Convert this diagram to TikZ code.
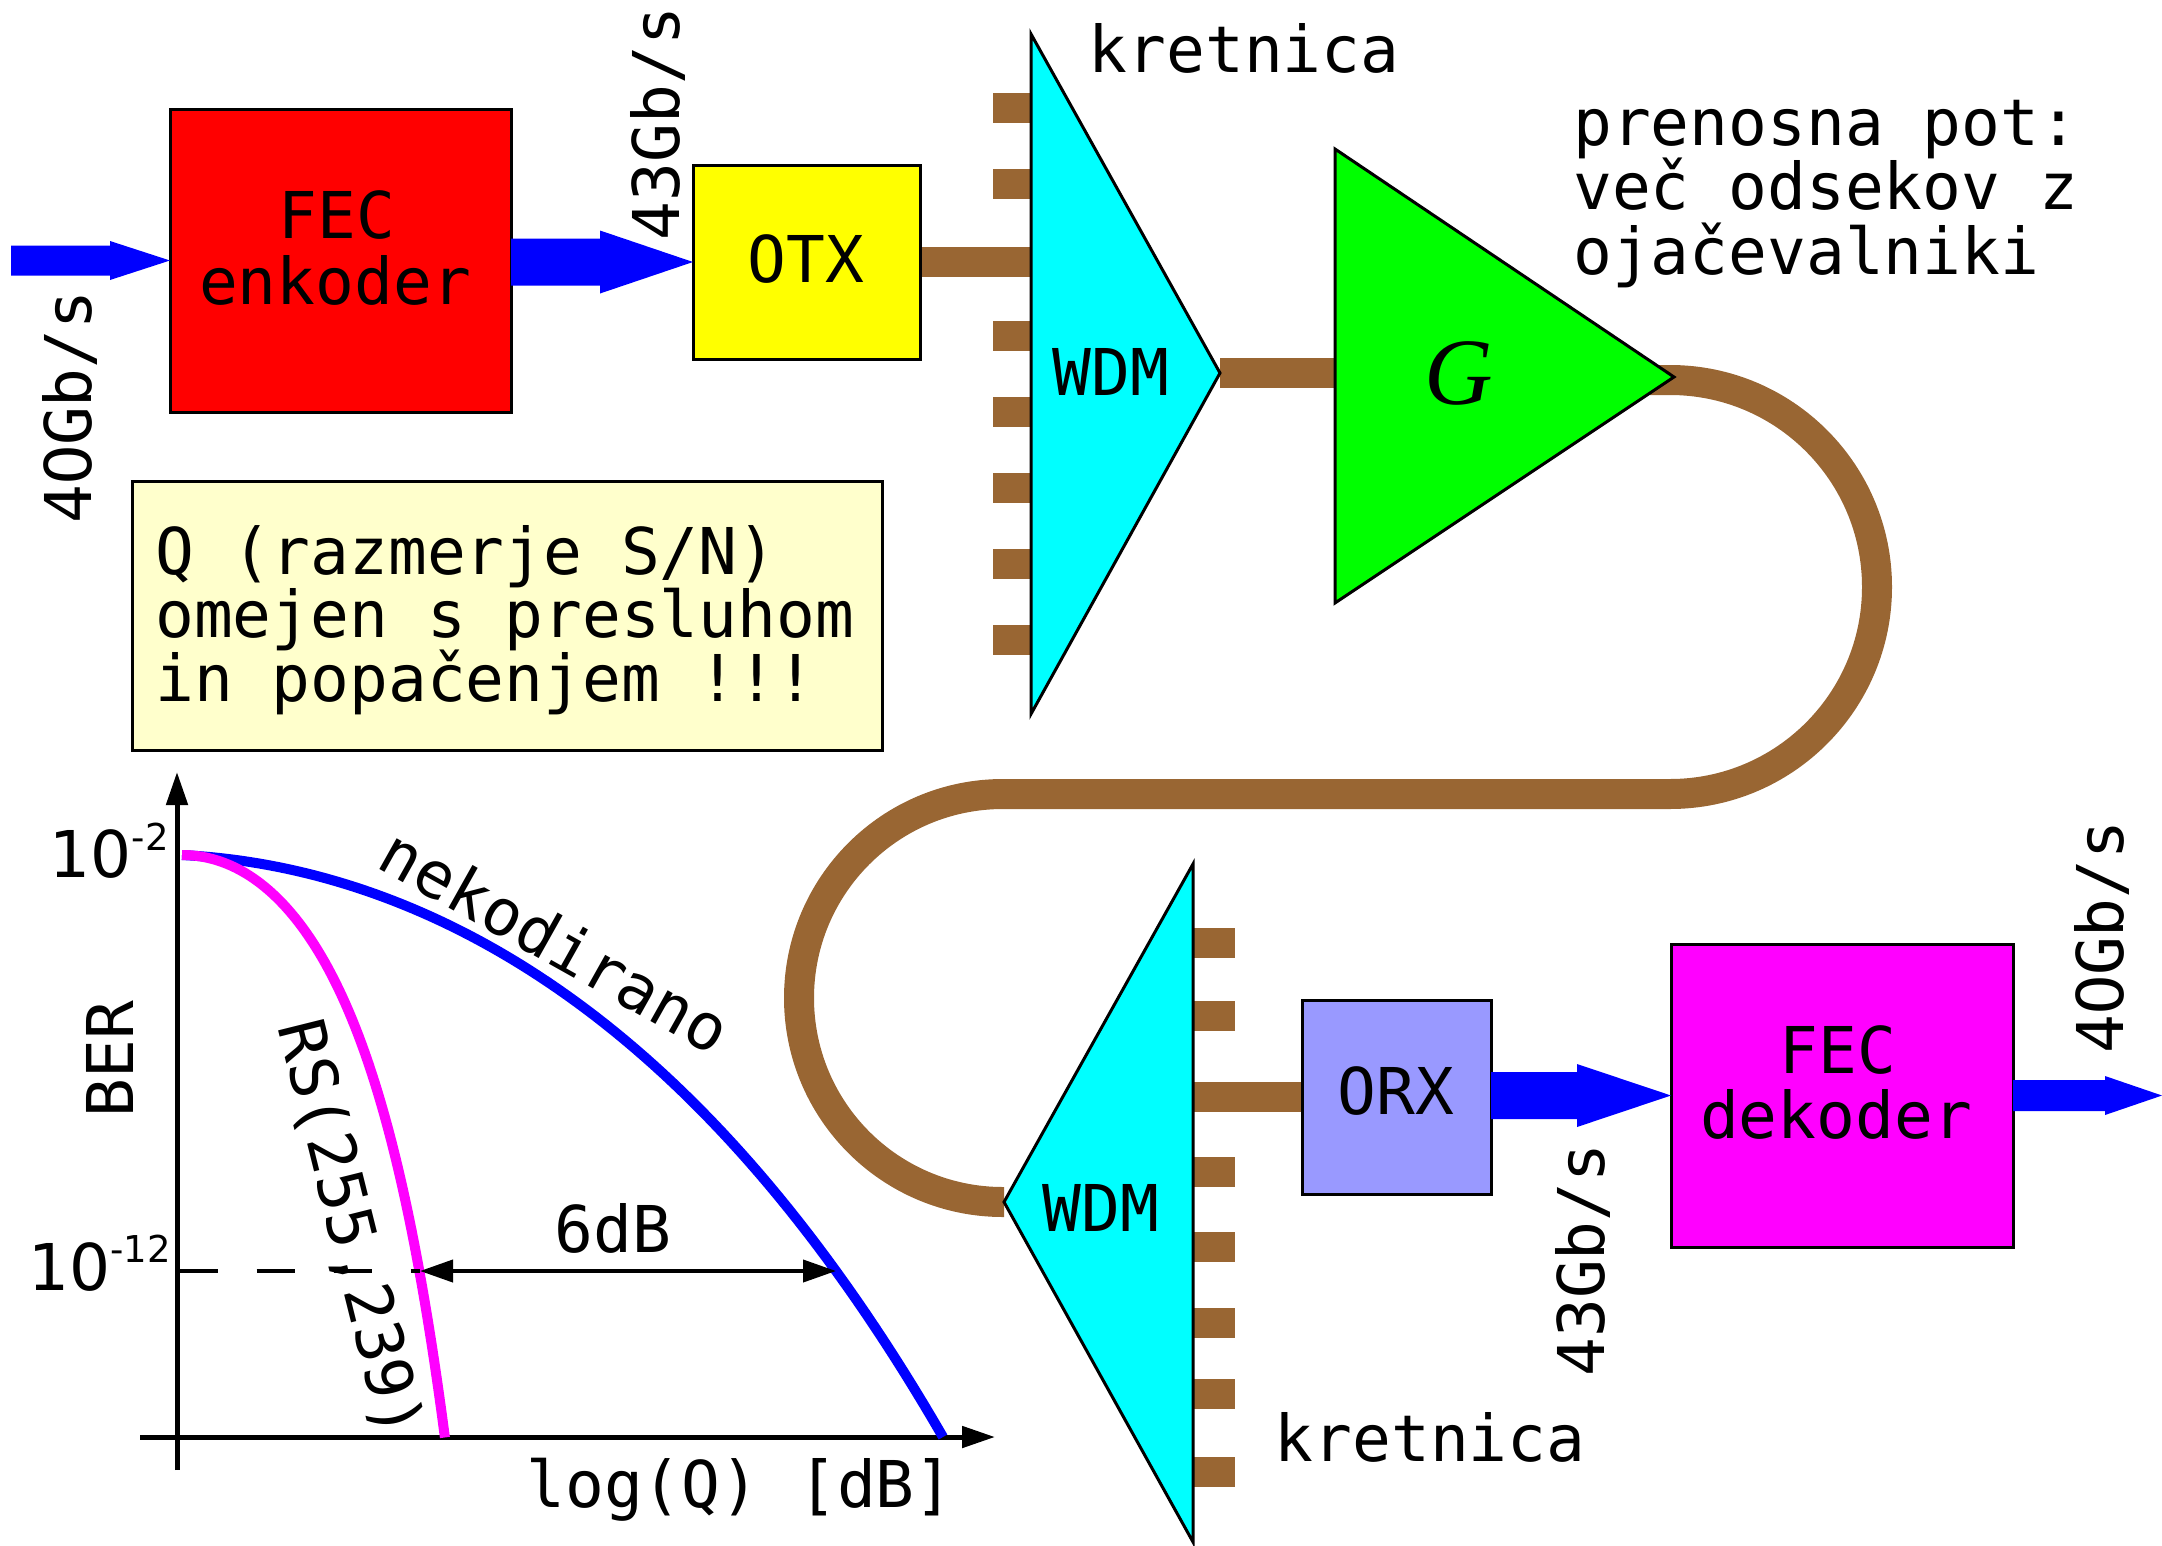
\documentclass[tikz,border=0pt]{standalone}
\usepackage{fontspec}
\usetikzlibrary{calc,arrows.meta}
\newfontfamily\monofont{DejaVu Sans Mono}
\newfontfamily\dvsans{DejaVu Sans}
\newfontfamily\timesfont{Liberation Serif}
\definecolor{fib}{RGB}{153,102,51}
\definecolor{qboxc}{RGB}{255,255,204}
\definecolor{orxc}{RGB}{153,153,255}
\definecolor{arrowblue}{RGB}{0,0,255}
\definecolor{pcyan}{RGB}{0,255,255}
\definecolor{pmagenta}{RGB}{255,0,255}
\definecolor{pyellow}{RGB}{255,255,0}
\definecolor{pgreen}{RGB}{0,255,0}
\definecolor{pred}{RGB}{255,0,0}
\definecolor{pblue}{RGB}{0,0,255}
\newcommand\zro{\makebox[0.602em]{\dvsans 0}}
\newcommand\blockarrow[5]{%
  \fill[arrowblue] let \p1=(#1),\p2=(#2) in
    (\x1,\y2+#3) -- (\x2-#5,\y2+#3) -- (\x2-#5,\y2+#4) -- (\x2,\y2) --
    (\x2-#5,\y2-#4) -- (\x2-#5,\y2-#3) -- (\x1,\y2-#3) -- cycle;}
\begin{document}
\begin{tikzpicture}[x=1pt,y=-1pt,
  box/.style={draw=black,line width=3pt,inner sep=0pt,outer sep=0pt},
  txt/.style={font=\monofont\fontsize{64.5}{66}\selectfont,inner sep=0pt,anchor=base},
  fiber/.style={draw=fib,line width=30pt},
  stub/.style={draw=fib,line width=30pt},
  tri/.style={draw=black,line width=3pt,line join=miter},
  axisline/.style={draw=black,line width=5pt,-{Triangle[length=33pt,width=21pt]}},
  curve/.style={line width=10pt},
]
\useasboundingbox (0,0) rectangle (2162,1545);

% coordinates of triangles
\coordinate (w1a) at (1031,34);
\coordinate (w1b) at (1031,714);
\coordinate (w1c) at (1220,373);
\coordinate (ga) at (1335,149);
\coordinate (gb) at (1335,603);
\coordinate (gc) at (1674,377);
\coordinate (w2a) at (1193,864);
\coordinate (w2b) at (1193,1542);
\coordinate (w2c) at (1004,1202);
\coordinate (fa) at (1650,380);
\coordinate (ain) at (11,261);
\coordinate (aout) at (2162,1095.5);

% boxes (nodes)
\node[box,fill=pred,minimum width=341pt,minimum height=303pt] (fece) at (340.5,260.5) {};
\node[box,fill=pyellow,minimum width=227pt,minimum height=194pt] (otx) at (806.5,262) {};
\node[box,fill=orxc,minimum width=189pt,minimum height=194pt] (orx) at (1396.5,1097) {};
\node[box,fill=pmagenta,minimum width=342pt,minimum height=303pt] (fecd) at (1842,1095.5) {};
\node[box,fill=qboxc,minimum width=750pt,minimum height=269pt] (qb) at (507,615.5) {};

% fibers
\draw[fiber] (otx.east) -- (otx.east -| w1a);
\draw[fiber] (w1c) -- (w1c -| ga);
\draw[fiber] (fa) -- (1670,380) arc[start angle=90,end angle=-90,radius=207pt]
  -- (1003,794) arc[start angle=90,end angle=270,radius=204pt] -- (w2c);
\draw[fiber] (orx.west -| w2a) -- (orx.west);
\foreach \yy in {107.5,183.5,335.5,411.5,487.5,563.5,639.5}
  \draw[stub] (993,\yy) -- (1031,\yy);
\foreach \yy in {943,1016,1172,1247,1323,1394,1472}
  \draw[stub] (1193,\yy) -- (1235,\yy);

% redraw boxes on top of fiber ends
\node[box,fill=pyellow,minimum width=227pt,minimum height=194pt] at (otx) {};
\node[box,fill=orxc,minimum width=189pt,minimum height=194pt] at (orx) {};

% triangles
\filldraw[tri,fill=pcyan] (w1a) -- (w1c) -- (w1b) -- cycle;
\filldraw[tri,fill=pgreen] (ga) -- (gc) -- (gb) -- cycle;
\filldraw[tri,fill=pcyan] (w2a) -- (w2b) -- (w2c) -- cycle;

% block arrows
\blockarrow{ain}{fece.west}{15pt}{19.5pt}{60pt}
\blockarrow{fece.east}{otx.west}{23.5pt}{31.5pt}{93pt}
\blockarrow{orx.east}{fecd.west}{23.5pt}{31.5pt}{94pt}
\blockarrow{fecd.east}{aout}{15.5pt}{19.5pt}{57pt}

% texts in blocks
\node[txt] (t1) at (337,238) {FEC};
\node[txt] (t2) at (335,304) {enkoder};
\node[txt] (t3) at (806,282) {OTX};
\node[txt] (t4) at (1111,395) {WDM};
\node[txt] (t5) at (1101,1231) {WDM};
\node[txt] (t6) at (1396,1114) {ORX};
\node[txt] (t7) at (1838,1073) {FEC};
\node[txt] (t8) at (1836,1138) {dekoder};
\node[inner sep=0pt,anchor=base,font=\timesfont\itshape\fontsize{95}{100}\selectfont] (tg) at (1459,404) {G};

% rate labels
\node[txt,rotate=90] (r1) at (91,407) {4\zro Gb/s};
\node[txt,rotate=90] (r2) at (679,123.5) {43Gb/s};
\node[txt,rotate=90] (r3) at (1604,1260) {43Gb/s};
\node[txt,rotate=90] (r4) at (2123,937) {4\zro Gb/s};

% other labels
\node[txt] (k1) at (1244,72) {kretnica};
\node[txt] (k2) at (1430,1461) {kretnica};
\node[txt,anchor=base west] (p1) at (1573,145) {prenosna pot:};
\node[txt,anchor=base west] (p2) at (1573,209) {več odsekov z};
\node[txt,anchor=base west] (p3) at (1573,274) {ojačevalniki};
\node[txt,anchor=base west] (q1) at (155,574) {Q (razmerje S/N)};
\node[txt,anchor=base west] (q2) at (155,637) {omejen s presluhom};
\node[txt,anchor=base west] (q3) at (155,701) {in popačenjem !!!};

% graph
\coordinate (yb) at (177,1470);
\coordinate (yt) at (177,772);
\coordinate (xl) at (140,1437);
\coordinate (xr) at (995,1437);
\coordinate (d0) at (179.5,1271);
\coordinate (m12) at (420,1271);
\coordinate (b12) at (836,1271);
\draw[axisline] (yb) -- (yt);
\draw[axisline] (xl) -- (xr);
\draw[curve,pblue] plot[domain=0:7.61,samples=80,variable=\t]
  ({182+100*\t},{855+5*\t+7.745*\t*\t+0.02846*\t*\t*\t*\t});
\draw[curve,pmagenta] plot[domain=0:2.63,samples=80,variable=\t]
  ({182+100*\t},{855+35*\t*\t+5.5*(exp(1.6*\t)-1-1.6*\t)});
\draw[line width=4pt,dash pattern=on 38pt off 39pt] (d0) -- (m12);
\draw[line width=4pt,{Triangle[length=33pt,width=22pt]}-{Triangle[length=33pt,width=22pt]}] (m12) -- (b12);

\node[inner sep=0pt,anchor=base east,font=\dvsans\fontsize{64.5}{70}\selectfont] (e2) at (169,877) {10\raisebox{27pt}{\fontsize{37}{40}\selectfont -2}};
\node[inner sep=0pt,anchor=base east,font=\dvsans\fontsize{64.5}{70}\selectfont] (e12) at (171,1290) {10\raisebox{28pt}{\fontsize{37}{40}\selectfont -12}};
\node[txt,rotate=90] (ber) at (133,1059) {BER};
\node[txt] (lq) at (740,1507) {log(Q) [dB]};
\node[txt] (sixdb) at (613,1252) {6dB};
\node[txt,anchor=center,rotate=-29.3] (nek) at (556,941) {nekodirano};
\node[txt,anchor=center,rotate=-76] (rs) at (349,1229) {RS(255,239)};
\end{tikzpicture}
\end{document}
